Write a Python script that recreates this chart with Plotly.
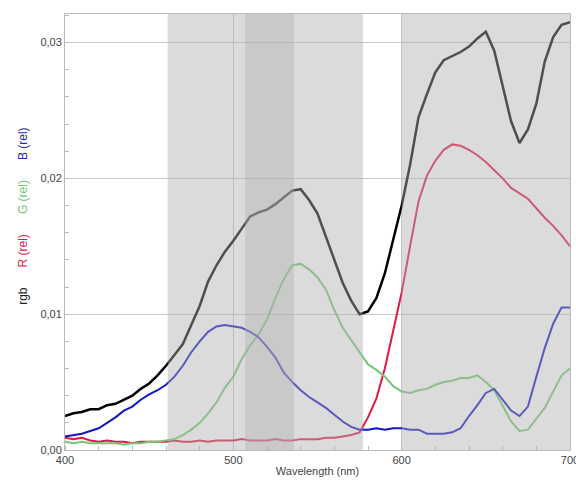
import plotly.graph_objects as go

wavelength = list(range(400, 701, 5))

rgb_total = [0.0025, 0.0027, 0.0028, 0.0030, 0.0030, 0.0033, 0.0034, 0.0037, 0.0040, 0.0045,
             0.0049, 0.0055, 0.0062, 0.0070, 0.0078, 0.0092, 0.0106, 0.0124, 0.0136, 0.0146,
             0.0154, 0.0163, 0.0172, 0.0175, 0.0177, 0.0181, 0.0186, 0.0191, 0.0192, 0.0184,
             0.0174, 0.0157, 0.0140, 0.0123, 0.0110, 0.0100, 0.0102, 0.0112, 0.0130, 0.0155,
             0.0180, 0.0210, 0.0245, 0.0262, 0.0278, 0.0287, 0.0290, 0.0293, 0.0297, 0.0303,
             0.0308, 0.0294, 0.0268, 0.0242, 0.0226, 0.0236, 0.0255, 0.0286, 0.0304, 0.0313,
             0.0315]

r_rel = [0.0009, 0.0008, 0.0009, 0.0007, 0.0006, 0.0007, 0.0006, 0.0006, 0.0005, 0.0006,
         0.0006, 0.0006, 0.0006, 0.0007, 0.0006, 0.0006, 0.0007, 0.0006, 0.0007, 0.0007,
         0.0007, 0.0008, 0.0007, 0.0007, 0.0007, 0.0008, 0.0007, 0.0007, 0.0008, 0.0008,
         0.0008, 0.0009, 0.0009, 0.0010, 0.0011, 0.0013, 0.0024, 0.0038, 0.0060, 0.0088,
         0.0116, 0.0150, 0.0183, 0.0202, 0.0213, 0.0221, 0.0225, 0.0224, 0.0221, 0.0217,
         0.0212, 0.0206, 0.0200, 0.0193, 0.0189, 0.0185, 0.0178, 0.0171, 0.0165, 0.0158,
         0.0150]

g_rel = [0.0006, 0.0005, 0.0006, 0.0005, 0.0005, 0.0005, 0.0005, 0.0004, 0.0005, 0.0005,
         0.0006, 0.0006, 0.0007, 0.0008, 0.0011, 0.0015, 0.0020, 0.0027, 0.0035, 0.0046,
         0.0054, 0.0067, 0.0077, 0.0085, 0.0096, 0.0112, 0.0126, 0.0136, 0.0137, 0.0133,
         0.0127, 0.0118, 0.0103, 0.0090, 0.0081, 0.0072, 0.0063, 0.0059, 0.0054, 0.0047,
         0.0043, 0.0042, 0.0044, 0.0045, 0.0048, 0.0050, 0.0051, 0.0053, 0.0053, 0.0055,
         0.0050, 0.0044, 0.0033, 0.0021, 0.0014, 0.0015, 0.0023, 0.0031, 0.0043, 0.0055,
         0.0060]

b_rel = [0.0010, 0.0011, 0.0012, 0.0014, 0.0016, 0.0020, 0.0024, 0.0029, 0.0032, 0.0037,
         0.0041, 0.0044, 0.0048, 0.0054, 0.0062, 0.0072, 0.0080, 0.0087, 0.0091, 0.0092,
         0.0091, 0.0090, 0.0087, 0.0083, 0.0076, 0.0068, 0.0057, 0.0050, 0.0044, 0.0039,
         0.0035, 0.0031, 0.0026, 0.0021, 0.0017, 0.0015, 0.0015, 0.0016, 0.0015, 0.0016,
         0.0016, 0.0015, 0.0015, 0.0012, 0.0012, 0.0012, 0.0013, 0.0016, 0.0025, 0.0033,
         0.0042, 0.0045, 0.0037, 0.0029, 0.0025, 0.0032, 0.0054, 0.0075, 0.0093, 0.0105,
         0.0105]

bands = [(461, 577), (600, 700)]
dark_band = (507, 536)

fig = go.Figure()
fig.add_trace(go.Scatter(x=wavelength, y=rgb_total, mode="lines", line=dict(color="#000000", width=2.5), name="rgb"))
fig.add_trace(go.Scatter(x=wavelength, y=r_rel, mode="lines", line=dict(color="#e01848", width=2), name="R (rel)"))
fig.add_trace(go.Scatter(x=wavelength, y=g_rel, mode="lines", line=dict(color="#74c874", width=2), name="G (rel)"))
fig.add_trace(go.Scatter(x=wavelength, y=b_rel, mode="lines", line=dict(color="#1414c8", width=2), name="B (rel)"))

for x0, x1 in bands:
    fig.add_shape(type="rect", xref="x", yref="paper", x0=x0, x1=x1, y0=0, y1=1,
                  fillcolor="rgb(175,175,175)", opacity=0.45, line_width=0, layer="above")
fig.add_shape(type="rect", xref="x", yref="paper", x0=dark_band[0], x1=dark_band[1], y0=0, y1=1,
              fillcolor="rgb(175,175,175)", opacity=0.4, line_width=0, layer="above")

gap = "&nbsp;" * 6
fig.add_annotation(
    xref="paper", yref="paper", x=-0.083, y=0.535, xanchor="center", yanchor="middle",
    textangle=-90, showarrow=False,
    text=("<span style='color:#222'>rgb</span>" + gap + "<span style='color:#e01848'>R (rel)</span>" + gap +
          "<span style='color:#74c874'>G (rel)</span>" + gap + "<span style='color:#2828b4'>B (rel)</span>"),
    font=dict(family="Liberation Sans, Arial", size=12),
)

fig.update_layout(
    width=576, height=482,
    margin=dict(l=65, r=6, t=14, b=32, autoexpand=False),
    paper_bgcolor="white", plot_bgcolor="white",
    showlegend=False,
    separators=",.",
    font=dict(family="Liberation Sans, Arial", size=11, color="#444"),
)
fig.update_xaxes(
    range=[400, 700], tickvals=[400, 500, 600, 700], ticks="", ticklabeloverflow="allow",
    automargin=False,
    showgrid=True, gridcolor="#c8c8c8", gridwidth=1,
    showline=True, linecolor="#bbbbbb", linewidth=1, mirror=True,
    minor=dict(dtick=20, ticks="inside", ticklen=4, tickcolor="#bbbbbb", showgrid=False),
    title=dict(text="Wavelength (nm)", standoff=2, font=dict(size=11, color="#444")),
    zeroline=False,
)
fig.update_yaxes(
    range=[0, 0.0321], tickvals=[0, 0.01, 0.02, 0.03], tickformat=".2f", ticks="",
    automargin=False,
    showgrid=True, gridcolor="#c8c8c8", gridwidth=1,
    showline=True, linecolor="#bbbbbb", linewidth=1, mirror=True,
    minor=dict(dtick=0.002, ticks="inside", ticklen=4, tickcolor="#bbbbbb", showgrid=False),
    zeroline=False,
)

fig.write_html("out.html")
